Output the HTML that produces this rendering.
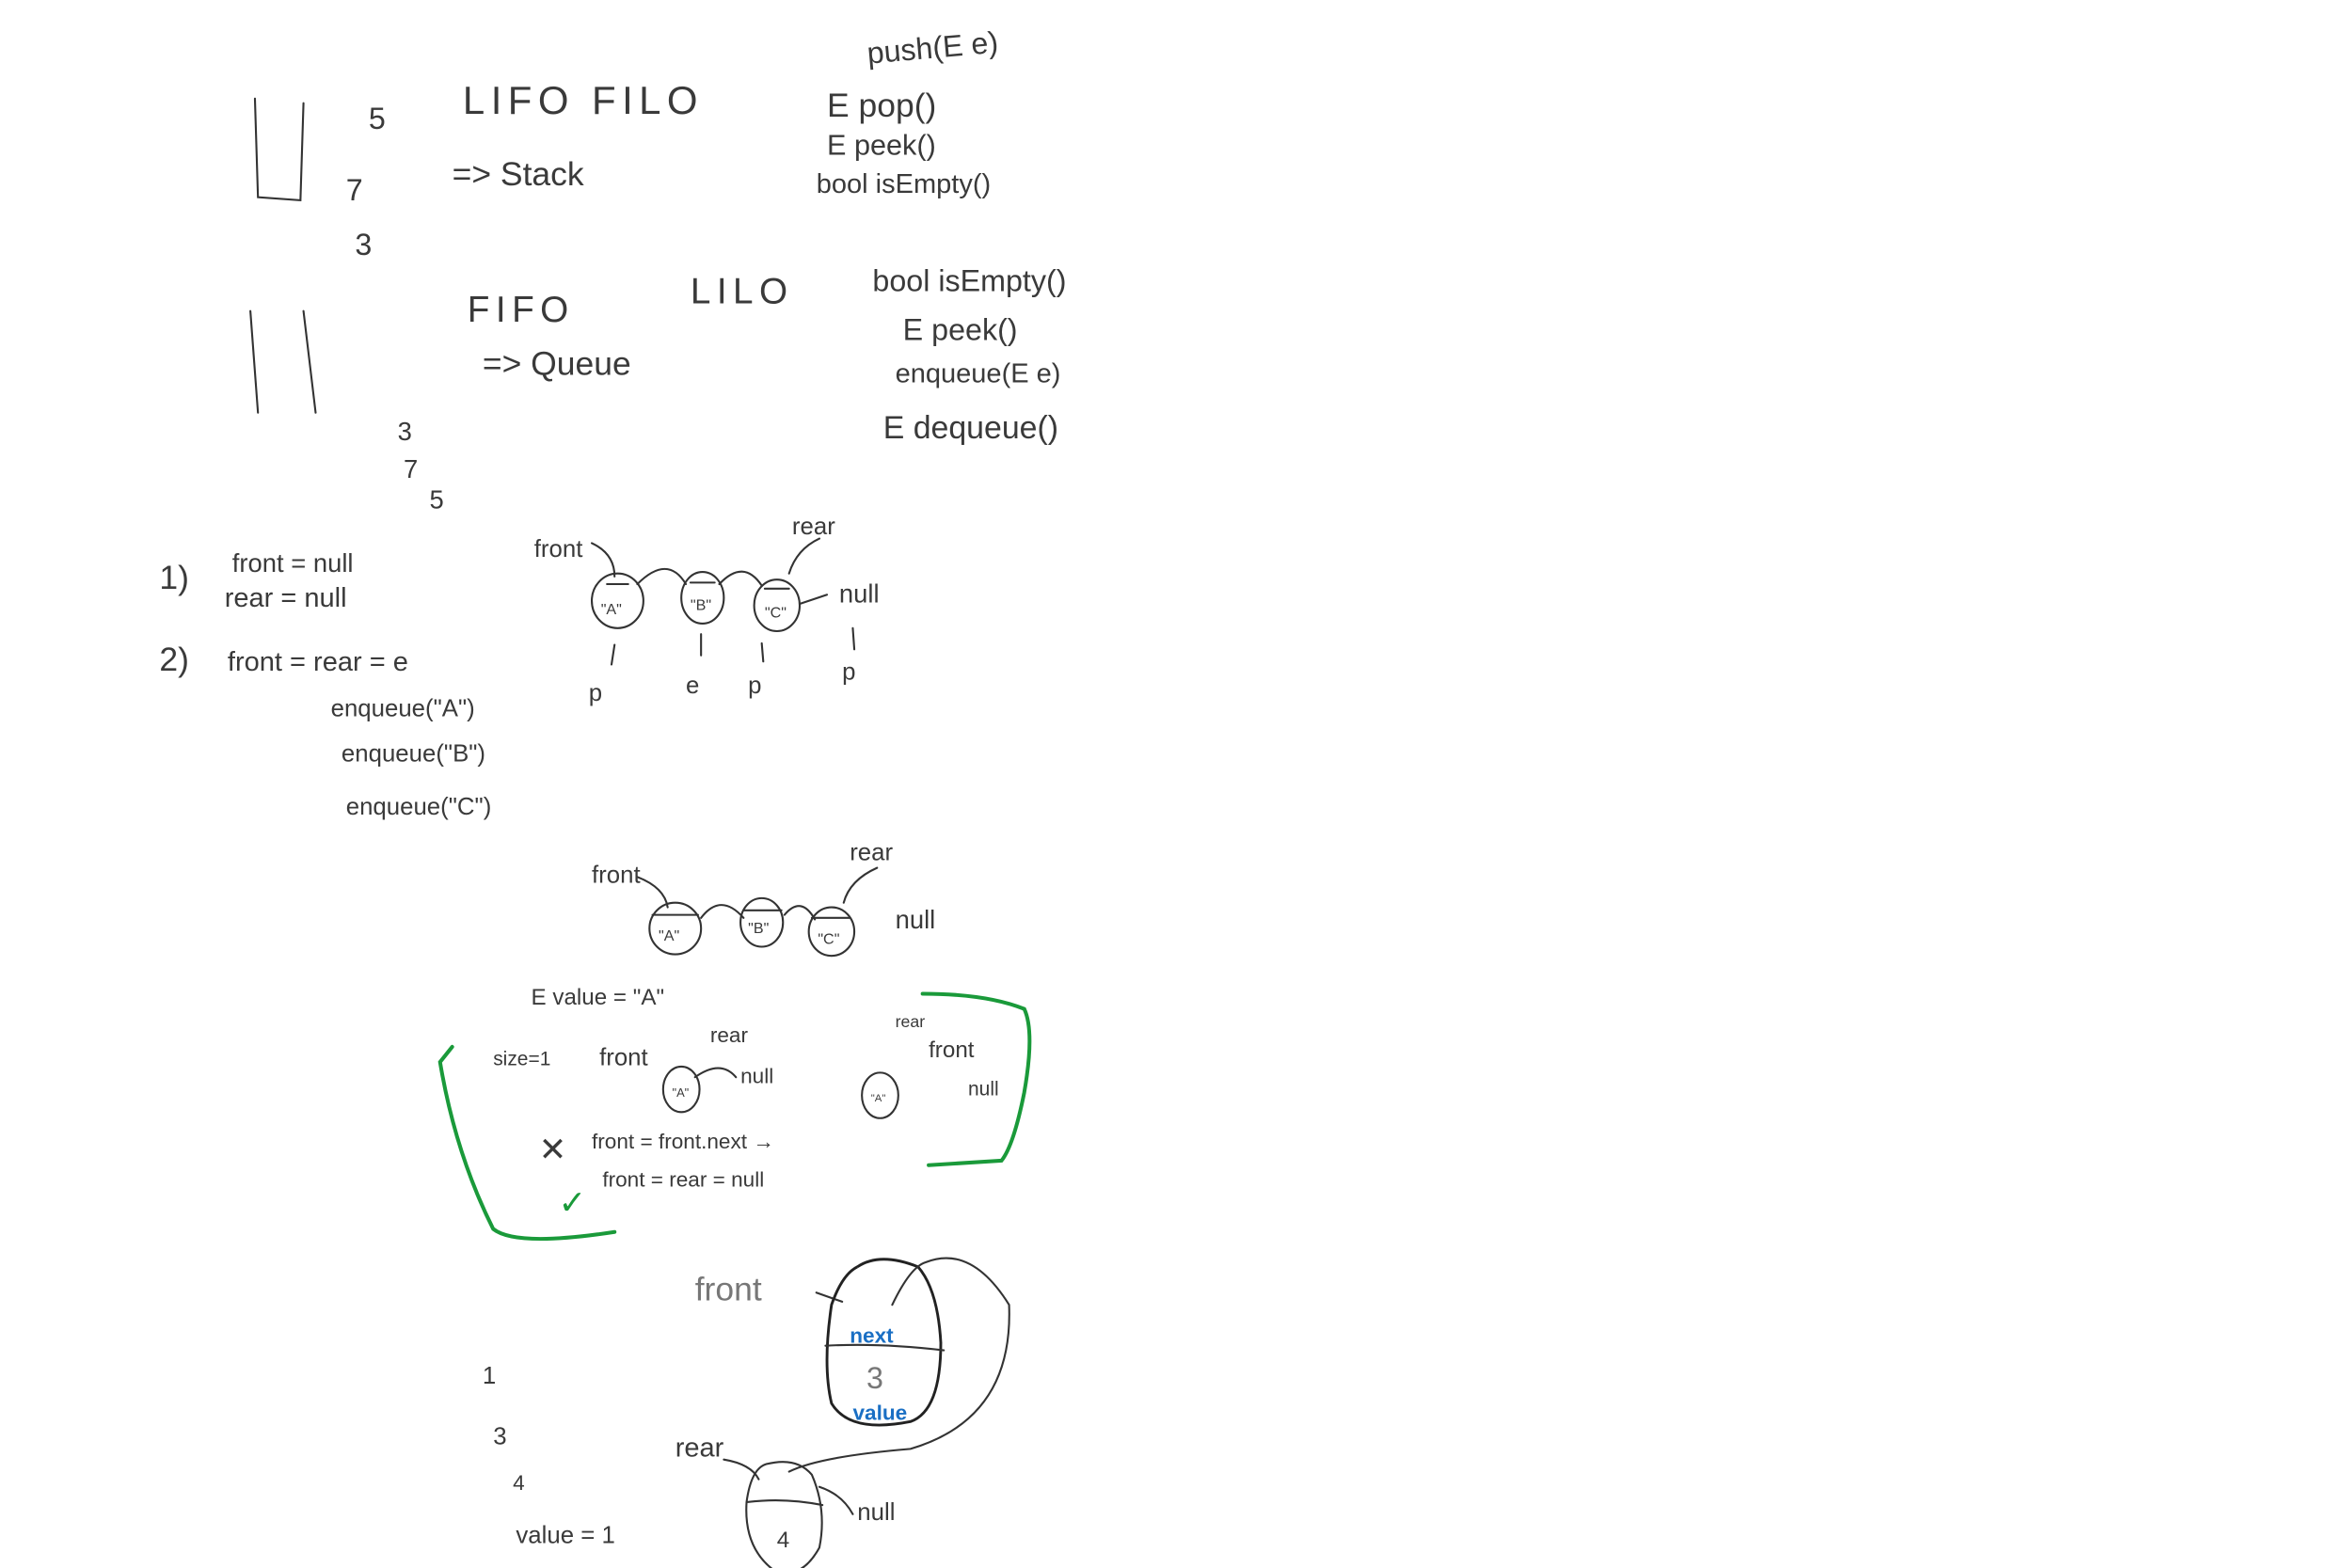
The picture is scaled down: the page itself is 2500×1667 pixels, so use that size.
<!DOCTYPE html>
<html><head><meta charset="utf-8"><style>
html,body{margin:0;padding:0;background:#fff;}
svg{display:block;}
text{font-family:"Liberation Sans","DejaVu Sans",sans-serif;fill:#3a3a3a;font-weight:normal;}
.s{stroke:#333;stroke-width:1.3;fill:none;stroke-linecap:round;}
.b{stroke:#222;stroke-width:1.8;fill:none;}
.g{stroke:#1a9a3a;stroke-width:2.5;fill:none;stroke-linecap:round;}
.bl{fill:#1a6fc4;font-weight:bold;}
</style></head><body>
<svg width="2500" height="1667" viewBox="0 0 1550 1033.5" preserveAspectRatio="none">
<rect width="1550" height="1034" fill="#fff"/>
<g>
<path class="s" d="M168 65 L170 130 L198 132 L200 68"/>
<text x="243" y="85" font-size="20">5</text>
<text x="228" y="132" font-size="20">7</text>
<text x="234" y="168" font-size="20">3</text>
<text x="305" y="75" font-size="26" letter-spacing="4">LIFO  FILO</text>
<text x="298" y="122" font-size="22">=&gt; Stack</text>
<text x="572" y="42" font-size="20" transform="rotate(-5 572 42)">push(E e)</text>
<text x="545" y="77" font-size="22">E pop()</text>
<text x="545" y="102" font-size="19">E peek()</text>
<text x="538" y="127" font-size="18">bool isEmpty()</text>
</g>
<g>
<path class="s" d="M165 205 L170 272 M200 205 L208 272"/>
<text x="308" y="212" font-size="24" letter-spacing="4">FIFO</text>
<text x="455" y="200" font-size="24" letter-spacing="4">LILO</text>
<text x="318" y="247" font-size="22">=&gt; Queue</text>
<text x="575" y="192" font-size="20">bool isEmpty()</text>
<text x="595" y="224" font-size="20">E peek()</text>
<text x="590" y="252" font-size="18">enqueue(E e)</text>
<text x="582" y="289" font-size="21">E dequeue()</text>
<text x="262" y="290" font-size="17">3</text>
<text x="266" y="315" font-size="17">7</text>
<text x="283" y="335" font-size="17">5</text>
</g>
<g>
<text x="105" y="388" font-size="22">1)</text>
<text x="153" y="377" font-size="17">front = null</text>
<text x="148" y="400" font-size="18">rear = null</text>
<text x="105" y="442" font-size="22">2)</text>
<text x="150" y="442" font-size="18">front = rear = e</text>
<text x="218" y="472" font-size="16">enqueue("A")</text>
<text x="225" y="502" font-size="16">enqueue("B")</text>
<text x="228" y="537" font-size="16">enqueue("C")</text>
</g>
<g>
<ellipse class="s" cx="407" cy="396" rx="17" ry="18"/><ellipse class="s" cx="463" cy="394" rx="14" ry="17"/><ellipse class="s" cx="512" cy="399" rx="15" ry="17"/>
<path class="s" d="M400 385 L414 385 M455 384 L471 384 M504 388 L520 388 M420 385 Q440 365 452 385 M474 385 Q490 368 502 386 M527 398 L545 392"/>
<text x="396" y="405" font-size="10">"A"</text><text x="455" y="402" font-size="10">"B"</text><text x="504" y="407" font-size="10">"C"</text>
<text x="352" y="367" font-size="16">front</text><text x="522" y="352" font-size="16">rear</text><text x="553" y="397" font-size="17">null</text>
<path class="s" d="M390 358 Q405 365 405 380 M540 355 Q525 362 520 378 M403 438 L405 425 M462 432 L462 418 M503 436 L502 424 M563 428 L562 414"/>
<text x="388" y="462" font-size="16">p</text><text x="452" y="457" font-size="16">e</text><text x="493" y="457" font-size="16">p</text><text x="555" y="448" font-size="16">p</text>
</g>
<g>
<ellipse class="s" cx="445" cy="612" rx="17" ry="17"/><ellipse class="s" cx="502" cy="608" rx="14" ry="16"/><ellipse class="s" cx="548" cy="614" rx="15" ry="16"/>
<path class="s" d="M430 603 L460 603 M490 600 L515 600 M535 605 L560 605 M462 605 Q475 588 490 605 M517 603 Q528 590 537 606 M420 578 Q438 585 440 598 M578 572 Q560 580 556 595"/>
<text x="434" y="620" font-size="10">"A"</text><text x="493" y="615" font-size="10">"B"</text><text x="539" y="622" font-size="10">"C"</text>
<text x="390" y="582" font-size="16">front</text><text x="560" y="567" font-size="16">rear</text><text x="590" y="612" font-size="17">null</text>
<text x="350" y="662" font-size="15">E value = "A"</text>
</g>
<g>
<path class="g" d="M298 690 L290 700 Q300 760 325 810 Q340 822 405 812 M612 768 L660 765 Q668 755 675 720 Q682 680 675 665 Q650 655 608 655"/>
<text x="325" y="702" font-size="13">size=1</text><text x="395" y="702" font-size="16">front</text><text x="468" y="687" font-size="14">rear</text>
<ellipse class="s" cx="449" cy="718" rx="12" ry="15"/><text x="443" y="723" font-size="8">"A"</text><text x="488" y="714" font-size="14">null</text>
<path class="s" d="M458 710 Q475 698 485 710"/>
<text x="355" y="765" font-size="22">✕</text><text x="390" y="757" font-size="14">front = front.next →</text>
<text x="368" y="800" font-size="22" fill="#1a9a3a" style="fill:#1a9a3a">✓</text><text x="397" y="782" font-size="14">front = rear = null</text>
<ellipse class="s" cx="580" cy="722" rx="12" ry="15"/><text x="574" y="726" font-size="7">"A"</text>
<text x="590" y="677" font-size="11">rear</text><text x="612" y="697" font-size="15">front</text><text x="638" y="722" font-size="13">null</text>
</g>
<g>
<text x="458" y="857" font-size="22" fill="#777" style="fill:#777">front</text>
<path class="s" d="M538 852 L555 858"/>
<path class="b" d="M565 835 Q580 825 605 835 Q618 850 620 885 Q620 930 600 937 Q560 945 548 925 Q542 900 548 860 Q555 840 565 835"/>
<path class="s" d="M544 887 Q580 885 622 890"/>
<text x="560" y="885" font-size="14" class="bl" style="fill:#1a6fc4">next</text>
<text x="571" y="915" font-size="20" fill="#777" style="fill:#777">3</text>
<text x="562" y="936" font-size="14" class="bl" style="fill:#1a6fc4">value</text>
<path class="s" d="M588 860 Q600 835 610 832 Q640 820 665 860 Q668 935 600 955 Q540 960 520 970"/>
<text x="318" y="912" font-size="16">1</text><text x="325" y="952" font-size="16">3</text><text x="338" y="982" font-size="14">4</text>
<text x="340" y="1017" font-size="16">value = 1</text>
<text x="445" y="960" font-size="18">rear</text>
<path class="s" d="M477 962 Q495 965 500 975"/>
<path class="s" d="M505 965 Q525 960 535 972 Q545 995 540 1020 Q528 1042 510 1035 Q490 1020 492 990 Q495 968 505 965 M493 990 Q517 987 542 992"/>
<text x="512" y="1020" font-size="15">4</text><text x="565" y="1002" font-size="16">null</text>
<path class="s" d="M540 980 Q555 985 562 998"/>
</g>
</svg>
</body></html>
